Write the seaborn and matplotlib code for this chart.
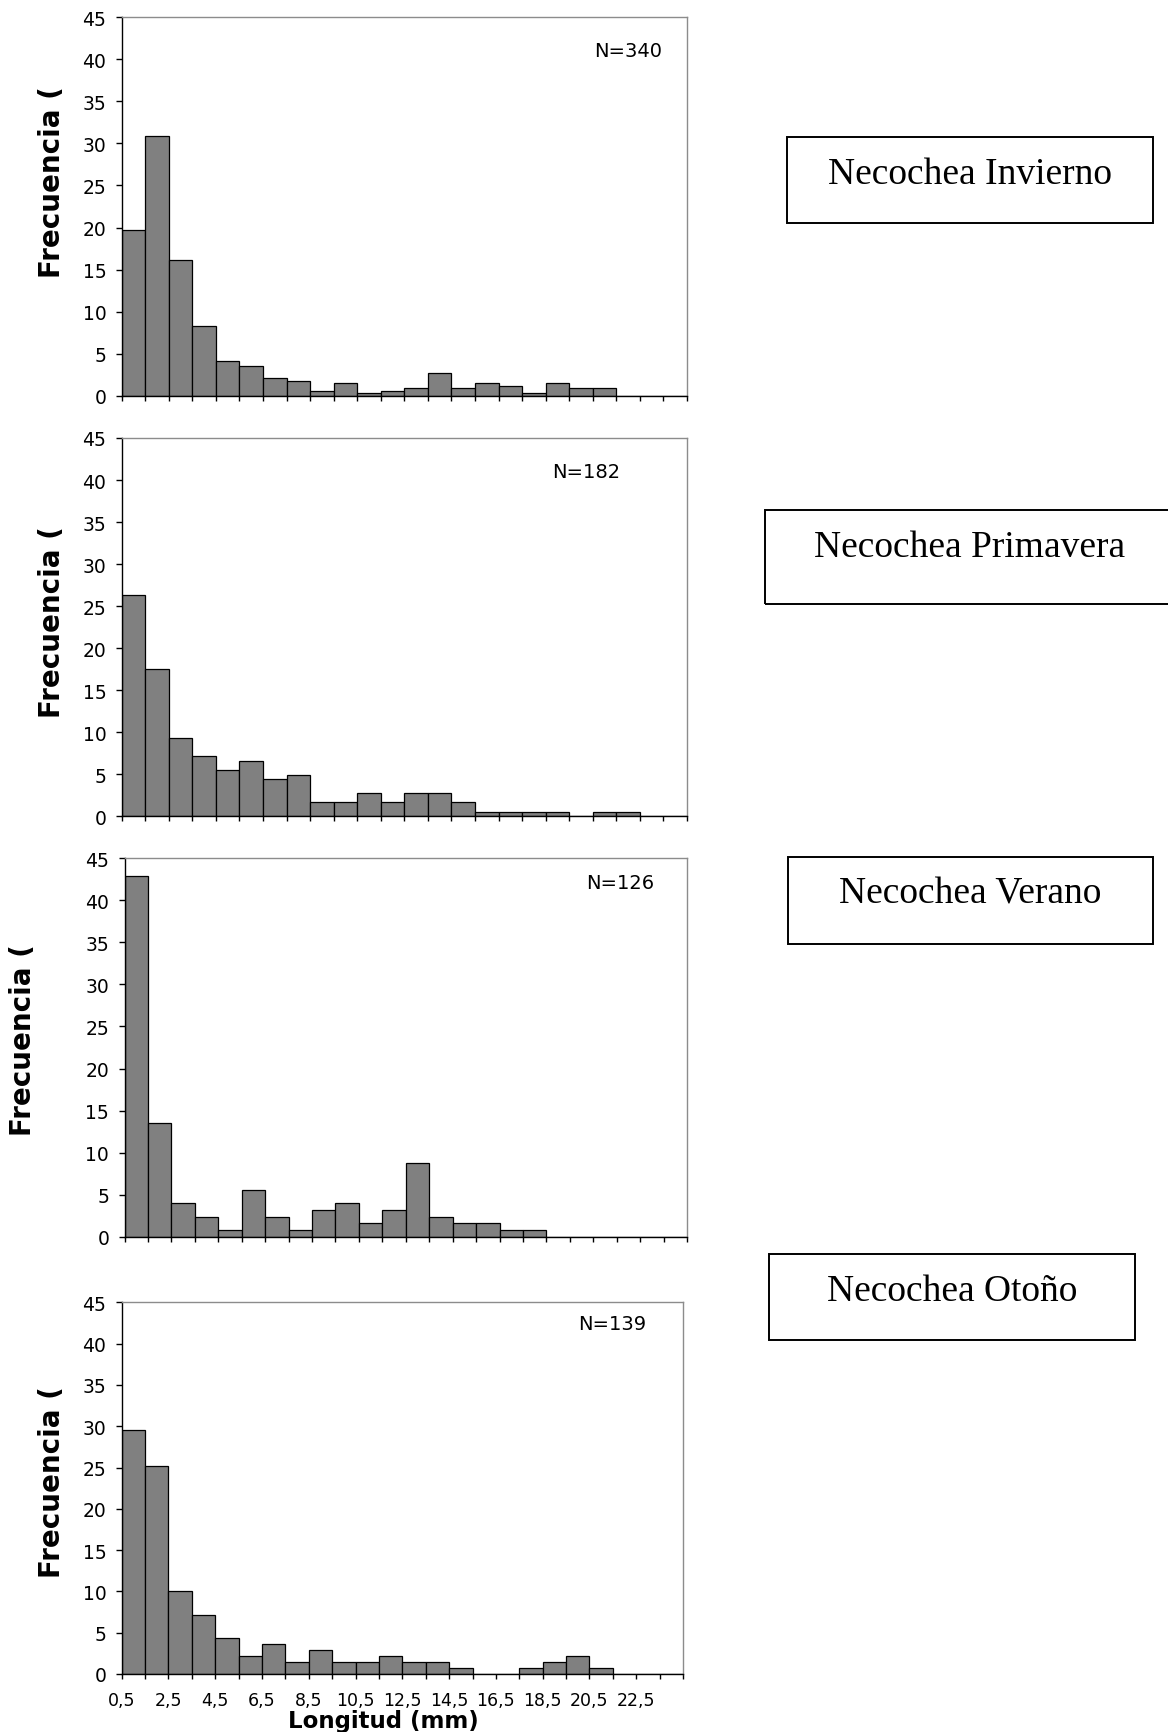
import numpy as np
import pandas as pd
import matplotlib
matplotlib.use("Agg")
import matplotlib.pyplot as plt
import matplotlib.transforms as mtransforms
import seaborn as sns
from matplotlib.patches import Rectangle

# ---------------- data ----------------
length_classes = [1, 2, 3, 4, 5, 6, 7, 8, 9, 10, 11, 12,
                  13, 14, 15, 16, 17, 18, 19, 20, 21, 22, 23, 24]

freq_invierno = [19.71, 30.88, 16.18, 8.24, 4.12, 3.53, 2.06, 1.76, 0.59, 1.47, 0.29, 0.59,
                 0.88, 2.65, 0.88, 1.47, 1.18, 0.29, 1.47, 0.88, 0.88, 0, 0, 0]
freq_primavera = [26.37, 17.58, 9.34, 7.14, 5.49, 6.59, 4.40, 4.95, 1.65, 1.65, 2.75, 1.65,
                  2.75, 2.75, 1.65, 0.55, 0.55, 0.55, 0.55, 0, 0.55, 0.55, 0, 0]
freq_verano = [42.86, 13.49, 3.97, 2.38, 0.79, 5.56, 2.38, 0.79, 3.17, 3.97, 1.59, 3.17,
               8.73, 2.38, 1.59, 1.59, 0.79, 0.79, 0, 0, 0, 0, 0, 0]
freq_otono = [29.50, 25.18, 10.07, 7.19, 4.32, 2.16, 3.60, 1.44, 2.88, 1.44, 1.44, 2.16,
              1.44, 1.44, 0.72, 0, 0, 0.72, 1.44, 2.16, 0.72, 0, 0, 0]

sample_sizes = ["N=340", "N=182", "N=126", "N=139"]
panel_titles = ["Necochea Invierno", "Necochea Primavera", "Necochea Verano", "Necochea Otoño"]

x_tick_positions = [0.5, 1.5, 2.5, 3.5, 4.5, 5.5, 6.5, 7.5, 8.5, 9.5, 10.5, 11.5, 12.5,
                    13.5, 14.5, 15.5, 16.5, 17.5, 18.5, 19.5, 20.5, 21.5, 22.5, 23.5, 24.5]
x_tick_labels = ["0,5", "", "2,5", "", "4,5", "", "6,5", "", "8,5", "", "10,5", "", "12,5",
                 "", "14,5", "", "16,5", "", "18,5", "", "20,5", "", "22,5", "", ""]
y_ticks = [0, 5, 10, 15, 20, 25, 30, 35, 40, 45]

y_label = "Frecuencia ("
x_label = "Longitud (mm)"

# ---------------- layout ----------------
W, H = 1168, 1733
fig = plt.figure(figsize=(W / 100, H / 100), dpi=100)


def rect_px(l, r, t, b):
    return [l / W, 1 - b / H, (r - l) / W, (b - t) / H]


axes_rects = [rect_px(121.7, 687, 18.3, 396.7),
              rect_px(121.7, 687, 439, 817.3),
              rect_px(124.5, 687, 859.3, 1237.7),
              rect_px(121.7, 683, 1303.3, 1675)]
n_pos = [(0.895, 0.912), (0.822, 0.911), (0.881, 0.937), (0.874, 0.943)]
ylabel_pos = [(52, 182), (52, 622), (23, 1040), (52, 1482)]

series = [freq_invierno, freq_primavera, freq_verano, freq_otono]

for i, (rect, vals) in enumerate(zip(axes_rects, series)):
    ax = fig.add_axes(rect)
    df = pd.DataFrame({"longitud": length_classes, "frecuencia": vals})
    sns.histplot(data=df, x="longitud", weights="frecuencia",
                 binwidth=1, binrange=(0.5, 24.5), ax=ax,
                 color="#808080", edgecolor="black", linewidth=0.9, alpha=1.0)
    ax.set_xlim(0.5, 24.5)
    ax.set_ylim(0, 45)
    ax.set_yticks(y_ticks)
    ax.set_xticks(x_tick_positions)
    if i == 3:
        ax.set_xticklabels(x_tick_labels)
        shift = mtransforms.ScaledTranslation(-3 / 100, 0, fig.dpi_scale_trans)
        for lab in ax.get_xticklabels():
            lab.set_transform(lab.get_transform() + shift)
    else:
        ax.set_xticklabels([])
    ax.set_xlabel("")
    ax.set_ylabel("")
    ax.set_facecolor("white")
    for s in ["top", "right"]:
        ax.spines[s].set_color("#8c8c8c")
        ax.spines[s].set_linewidth(1.0)
    for s in ["left", "bottom"]:
        ax.spines[s].set_color("black")
        ax.spines[s].set_linewidth(1.0)
    ax.tick_params(axis="y", direction="out", length=4, width=1, pad=7,
                   labelsize=13.5, colors="black")
    ax.tick_params(axis="x", direction="out", length=3.6, width=1, pad=9,
                   labelsize=12.5, colors="black")
    ax.text(n_pos[i][0], n_pos[i][1], sample_sizes[i], transform=ax.transAxes,
            ha="center", va="center", fontsize=14, color="black")
    fig.text(ylabel_pos[i][0] / W, 1 - ylabel_pos[i][1] / H, y_label,
             rotation=90, ha="center", va="center",
             fontsize=20, fontweight="bold", color="black")

# x label under the bottom panel
fig.text(383 / W, 1 - 1728 / H, x_label, ha="center", va="baseline",
         fontsize=16.5, fontweight="bold", color="black")

# ---------------- side boxes ----------------
boxes = [(786.7, 1153.3, 138.3, 224.0, 970.0, 184.0),
         (765.0, 1180.0, 510.7, 605.0, 970.0, 556.7),
         (787.7, 1153.3, 858.3, 945.0, 970.0, 903.3),
         (769.0, 1135.0, 1255.0, 1340.7, 951.7, 1301.0)]
for title, (l, r, t, b, cx, base) in zip(panel_titles, boxes):
    fig.add_artist(Rectangle((l / W, 1 - b / H), (r - l) / W, (b - t) / H,
                             transform=fig.transFigure, fill=False,
                             edgecolor="black", linewidth=1.4))
    fig.text(cx / W, 1 - base / H, title, ha="center", va="baseline",
             fontsize=27, family="Liberation Serif", color="black")

fig.savefig("out.png", dpi=100, facecolor="white")
